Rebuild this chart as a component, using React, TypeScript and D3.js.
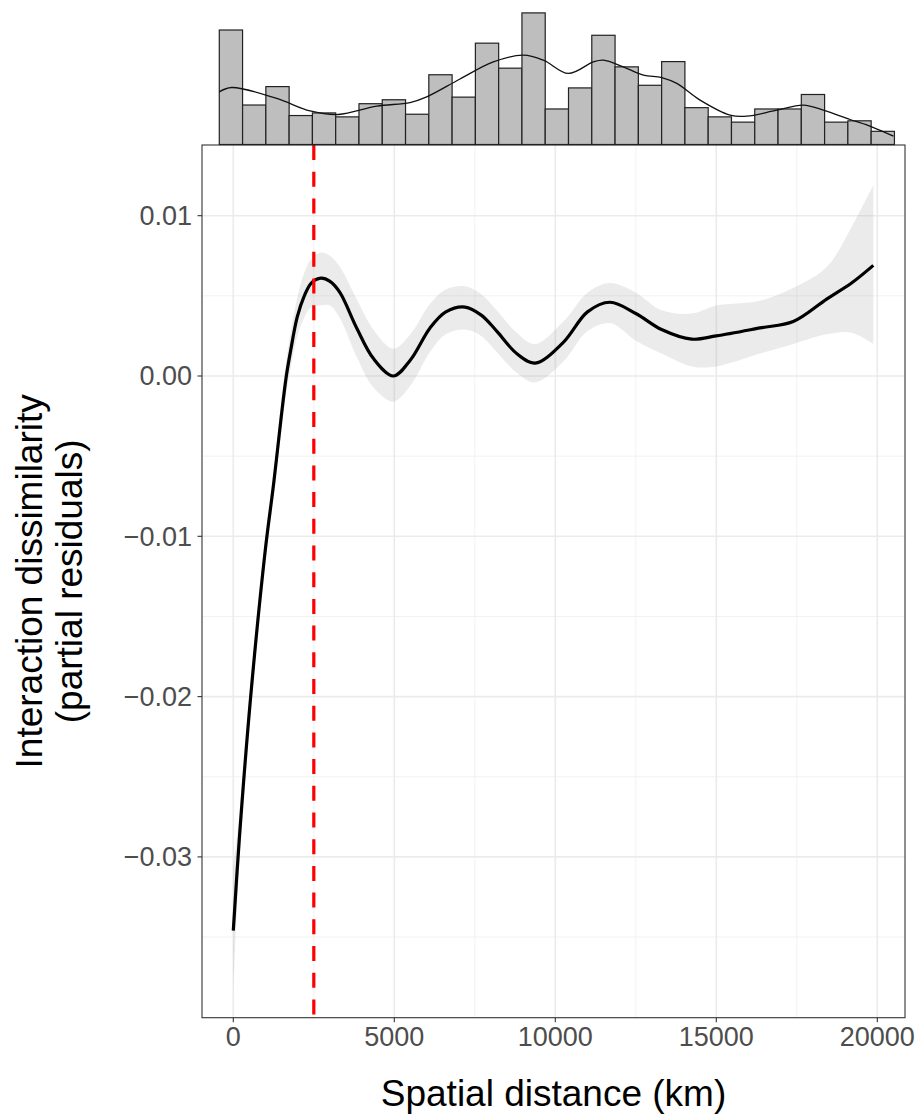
import React from "react";
import * as d3 from "d3";

// ---------- data ----------
const histBinStart = -435; // km, left edge of first bin
const histBinWidth = 723; // km
const histCounts = [87, 30, 44, 22, 24, 21, 31, 34, 23, 53, 36, 77, 58, 100, 27, 43, 83, 59, 45, 63, 28, 21, 17, 27, 27, 38, 17, 18, 10];

const densityX = [-435, -50, 1348, 2382, 3261, 4454, 5488, 6007, 7041, 8076, 9007, 9629, 10405, 11182, 11492, 12113, 12735, 13306, 13772, 14496, 15428, 15946, 16878, 17704, 18325, 19154, 19828, 20499];
const densityY = [40.0, 43.3, 35.0, 25.5, 22.8, 29.1, 31.9, 36.2, 49.8, 62.8, 67.9, 64.1, 54.0, 62.8, 64.1, 59.0, 52.7, 50.9, 46.4, 33.7, 22.3, 21.5, 26.1, 29.9, 26.1, 19.0, 13.4, 6.3];

const fitX = [0, 186, 540, 994, 1254, 1491, 1647, 1782, 1988, 2196, 2423, 2720, 3003, 3313, 3831, 4348, 4970, 5500, 6110, 6600, 7196, 7700, 8181, 8800, 9371, 10250, 11000, 11700, 12500, 13300, 14236, 15000, 16360, 17390, 18427, 19200, 19876];
const fitY = [-0.0346, -0.0289, -0.0200, -0.01085, -0.0067, -0.0025, 0.0000, 0.0016, 0.0037, 0.00495, 0.0058, 0.0061, 0.0059, 0.0052, 0.0030, 0.0011, 0.0000, 0.0010, 0.0030, 0.0040, 0.0043, 0.0038, 0.0028, 0.0014, 0.0008, 0.0021, 0.0040, 0.0046, 0.0039, 0.0029, 0.0023, 0.0025, 0.0030, 0.0034, 0.0048, 0.0058, 0.0069];
const fitLower = [-0.0385, -0.0305, -0.0210, -0.01165, -0.0075, -0.0034, -0.0010, 0.0005, 0.0025, 0.0036, 0.0043, 0.0044, 0.0044, 0.0036, 0.0012, -0.0007, -0.0016, -0.0006, 0.0015, 0.0026, 0.0029, 0.0025, 0.0015, 0.0002, -0.0004, 0.0009, 0.0028, 0.0033, 0.0022, 0.0014, 0.0006, 0.0006, 0.0014, 0.0020, 0.0026, 0.0027, 0.0020];
const fitUpper = [-0.0307, -0.0273, -0.0190, -0.01005, -0.0059, -0.0016, 0.0010, 0.0027, 0.0049, 0.0064, 0.0073, 0.0077, 0.0075, 0.0068, 0.0048, 0.0029, 0.0017, 0.0026, 0.0045, 0.0054, 0.0056, 0.0051, 0.0041, 0.0027, 0.0020, 0.0034, 0.0052, 0.0058, 0.0052, 0.0041, 0.0039, 0.0044, 0.0047, 0.0055, 0.0068, 0.0093, 0.0119];

const thresholdKm = 2500;

const xTicks = [0, 5000, 10000, 15000, 20000];
const xMinor = [2500, 7500, 12500, 17500];
const yTicks = [-0.03, -0.02, -0.01, 0.0, 0.01];
const yMinor = [-0.035, -0.025, -0.015, -0.005, 0.005];

const xTitle = "Spatial distance (km)";
const yTitle1 = "Interaction dissimilarity";
const yTitle2 = "(partial residuals)";

// ---------- layout ----------
const W = 918;
const H = 1115;
const panel = { left: 202, right: 905, top: 145, bottom: 1017.7 };
const histBase = 144.5;
const FONT = "'Liberation Sans', Arial, Helvetica, sans-serif";

export default function App() {
  const x = d3.scaleLinear().domain([-972, 20860]).range([panel.left, panel.right]);
  const y = d3.scaleLinear().domain([-0.04003, 0.01441]).range([panel.bottom, panel.top]);
  const yh = d3.scaleLinear().domain([0, 100]).range([histBase, histBase - 131.6]);

  const fitData = fitX.map((v, i) => ({ x: v, y: fitY[i], lo: fitLower[i], hi: fitUpper[i] }));
  const curve = d3.curveCatmullRom.alpha(0.5);
  const line = d3
    .line<any>()
    .x((d) => x(d.x))
    .y((d) => y(d.y))
    .curve(curve);
  const area = d3
    .area<any>()
    .x((d) => x(d.x))
    .y0((d) => y(d.lo))
    .y1((d) => y(d.hi))
    .curve(curve);

  const densData = densityX.map((v, i) => ({ x: v, y: densityY[i] }));
  const densLine = d3
    .line<any>()
    .x((d) => x(d.x))
    .y((d) => yh(d.y))
    .curve(d3.curveCatmullRom.alpha(0.5));

  const cx = (panel.left + panel.right) / 2;
  const cy = (panel.top + panel.bottom) / 2;

  return (
    <svg
      width={W}
      height={H}
      style={{ position: "absolute", left: 0, top: 0, background: "#fff" }}
      fontFamily={FONT}
    >
      <rect x={0} y={0} width={W} height={H} fill="#fff" />
      {/* grid */}
      <g>
        {yMinor.map((t) => (
          <line key={"ym" + t} x1={panel.left} x2={panel.right} y1={y(t)} y2={y(t)} stroke="#f2f2f2" strokeWidth={1} />
        ))}
        {xMinor.map((t) => (
          <line key={"xm" + t} x1={x(t)} x2={x(t)} y1={panel.top} y2={panel.bottom} stroke="#f2f2f2" strokeWidth={1} />
        ))}
        {yTicks.map((t) => (
          <line key={"yg" + t} x1={panel.left} x2={panel.right} y1={y(t)} y2={y(t)} stroke="#ebebeb" strokeWidth={1.6} />
        ))}
        {xTicks.map((t) => (
          <line key={"xg" + t} x1={x(t)} x2={x(t)} y1={panel.top} y2={panel.bottom} stroke="#ebebeb" strokeWidth={1.6} />
        ))}
      </g>
      {/* ribbon + fit */}
      <path d={area(fitData) || ""} fill="#999999" fillOpacity={0.2} />
      <path d={line(fitData) || ""} fill="none" stroke="#000" strokeWidth={3.2} />
      {/* threshold */}
      <line
        x1={x(thresholdKm)}
        x2={x(thresholdKm)}
        y1={panel.top}
        y2={panel.bottom}
        stroke="#ff0000"
        strokeWidth={3.2}
        strokeDasharray="15 11.7"
      />
      {/* panel border */}
      <rect
        x={panel.left}
        y={panel.top}
        width={panel.right - panel.left}
        height={panel.bottom - panel.top}
        fill="none"
        stroke="#333333"
        strokeWidth={1.1}
      />
      {/* histogram */}
      <g>
        {histCounts.map((c, i) => {
          const x0 = x(histBinStart + i * histBinWidth);
          const x1 = x(histBinStart + (i + 1) * histBinWidth);
          return (
            <rect
              key={"h" + i}
              x={x0}
              y={yh(c)}
              width={x1 - x0}
              height={yh(0) - yh(c)}
              fill="#bebebe"
              stroke="#222"
              strokeWidth={1.2}
            />
          );
        })}
        <path d={densLine(densData) || ""} fill="none" stroke="#111" strokeWidth={1.3} />
      </g>
      {/* y axis */}
      <g>
        {yTicks.map((t) => (
          <g key={"yt" + t}>
            <line x1={panel.left - 4.5} x2={panel.left} y1={y(t)} y2={y(t)} stroke="#333" strokeWidth={1.1} />
            <text x={192} y={y(t)} dy="0.35em" textAnchor="end" fontSize={27} fill="#4d4d4d">
              {t === 0 ? "0.00" : t < 0 ? "\u2212" + Math.abs(t).toFixed(2) : t.toFixed(2)}
            </text>
          </g>
        ))}
      </g>
      {/* x axis */}
      <g>
        {xTicks.map((t) => (
          <g key={"xt" + t}>
            <line x1={x(t)} x2={x(t)} y1={panel.bottom} y2={panel.bottom + 4.5} stroke="#333" strokeWidth={1.1} />
            <text x={x(t)} y={1046} textAnchor="middle" fontSize={27} fill="#4d4d4d">
              {String(t)}
            </text>
          </g>
        ))}
      </g>
      {/* titles */}
      <text x={cx} y={1106} textAnchor="middle" fontSize={37} fill="#000">
        {xTitle}
      </text>
      <g transform={`translate(41.7,${cy}) rotate(-90)`}>
        <text x={0} y={0} textAnchor="middle" fontSize={37} fill="#000">
          {yTitle1}
        </text>
      </g>
      <g transform={`translate(81.7,${cy}) rotate(-90)`}>
        <text x={0} y={0} textAnchor="middle" fontSize={37} fill="#000">
          {yTitle2}
        </text>
      </g>
    </svg>
  );
}
